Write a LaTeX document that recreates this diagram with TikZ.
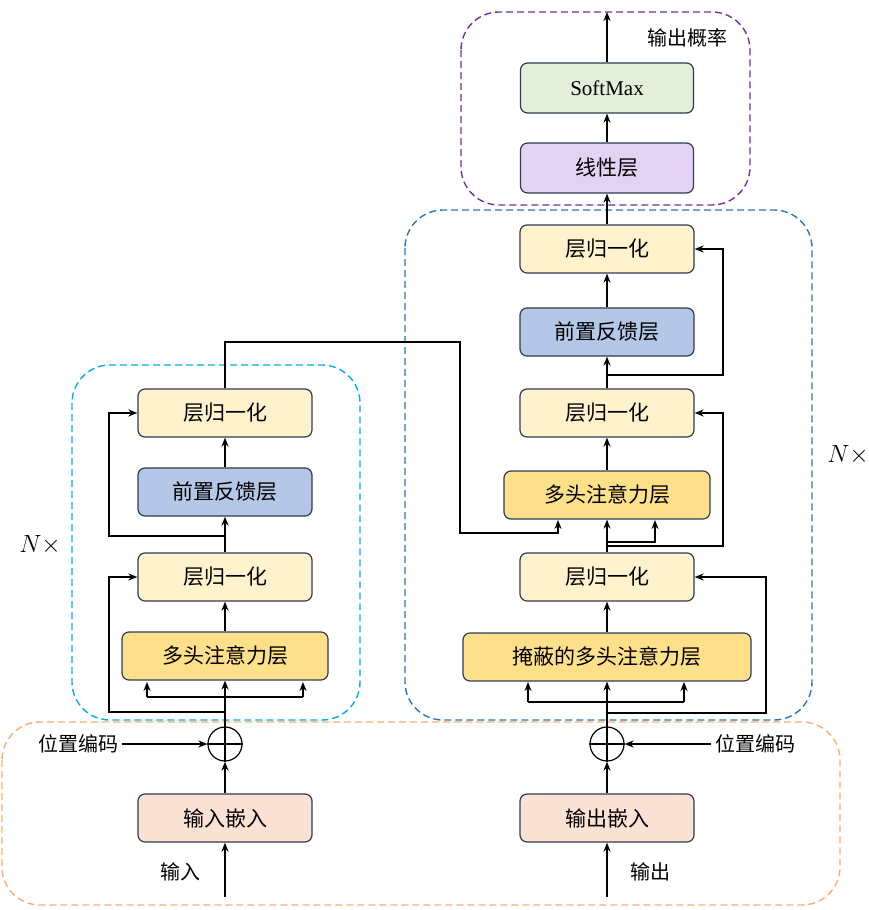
\documentclass[tikz,border=0pt]{standalone}
\usepackage{fontspec}
\setmainfont{Liberation Serif}
\newfontfamily\cjk{Noto Sans CJK SC}
\usetikzlibrary{arrows.meta}
\definecolor{lnc}{HTML}{FFF2CC}
\definecolor{ffc}{HTML}{B4C7E7}
\definecolor{mhc}{HTML}{FFE08A}
\definecolor{linc}{HTML}{E4D2F5}
\definecolor{smc}{HTML}{E2EFDA}
\definecolor{emc}{HTML}{FBE2D5}
\definecolor{bdc}{HTML}{2F3B57}
\begin{document}
\begin{tikzpicture}[x=1pt,y=-1pt,
 box/.style={draw=bdc,line width=1.2pt,rounded corners=7pt,minimum height=48pt,font=\cjk\fontsize{21}{24}\selectfont,inner sep=0pt},
 ln/.style={box,fill=lnc,minimum width=174pt},
 ar/.style={line width=1.6pt,-{Stealth[length=9pt,width=7pt]}},
 ln2/.style={line width=1.6pt},
 dsh/.style={dashed,line width=1.4pt,rounded corners=38pt,dash pattern=on 7pt off 4pt},
 lbl/.style={font=\cjk\fontsize{20}{24}\selectfont}]
\useasboundingbox (0,0) rectangle (868,910);
% dashed frames
\draw[dsh,color=orange!50!white!90!red] (2,722) rectangle (840,905);
\draw[dsh,color=cyan] (72,365) rectangle (360,720);
\draw[dsh,color={rgb,255:red,46;green,117;blue,182}] (405,210) rectangle (812,720);
\draw[dsh,color={rgb,255:red,112;green,48;blue,160}] (461,12) rectangle (750,205);
% encoder
\node[ln] (eln2) at (225,413) {层归一化};
\node[box,fill=ffc,minimum width=174pt] (eff) at (225,492) {前置反馈层};
\node[ln] (eln1) at (225,577) {层归一化};
\node[box,fill=mhc,minimum width=206pt] (emh) at (225,656) {多头注意力层};
\node[circle,draw,line width=1.2pt,minimum size=34pt,inner sep=0pt] (epl) at (225,744) {};
\draw[line width=1.2pt] (epl.north)--(epl.south) (epl.west)--(epl.east);
\node[box,fill=emc,minimum width=174pt] (eem) at (225,818) {输入嵌入};
\node[lbl] (ein) at (180,872) {输入};
\node[lbl] (epe) at (78,744) {位置编码};
\coordinate (einb) at (225,897);
\draw[ar] (einb)--(eem);
\draw[ar] (eem)--(epl);
\draw[ar] (epe.east)--(epl.west);
\draw[ar] (epl.north)--(emh.south);
\draw[ln2] (147,697)--(303,697);
\draw[ar] (147,697)--(147,682);
\draw[ar] (303,697)--(303,682);
\draw[ar] (225,712)--(109,712)--(109,577)--(eln1.west);
\draw[ar] (emh)--(eln1);
\draw[ar] (eln1)--(eff);
\draw[ar] (225,536)--(109,536)--(109,413)--(eln2.west);
\draw[ar] (eff)--(eln2);
% decoder
\node[ln] (dln3) at (607,249) {层归一化};
\node[box,fill=ffc,minimum width=174pt] (dff) at (607,332) {前置反馈层};
\node[ln] (dln2) at (607,413) {层归一化};
\node[box,fill=mhc,minimum width=206pt] (dmh) at (607,495) {多头注意力层};
\node[ln] (dln1) at (607,577) {层归一化};
\node[box,fill=mhc,minimum width=288pt] (dmm) at (607,657) {掩蔽的多头注意力层};
\node[circle,draw,line width=1.2pt,minimum size=34pt,inner sep=0pt] (dpl) at (607,744) {};
\draw[line width=1.2pt] (dpl.north)--(dpl.south) (dpl.west)--(dpl.east);
\node[box,fill=emc,minimum width=174pt] (dem) at (607,818) {输出嵌入};
\node[lbl] (dout) at (650,872) {输出};
\node[lbl] (dpe) at (755,744) {位置编码};
\coordinate (doutb) at (607,897);
\draw[ar] (doutb)--(dem);
\draw[ar] (dem)--(dpl);
\draw[ar] (dpe.west)--(dpl.east);
\draw[ar] (dpl.north)--(dmm.south);
\draw[ln2] (528,702)--(684,702);
\draw[ar] (528,702)--(528,682);
\draw[ar] (684,702)--(684,682);
\draw[ar] (607,713)--(766,713)--(766,577)--(dln1.east);
\draw[ar] (dmm)--(dln1);
\draw[ar] (dln1.north)--(dmh.south);
\draw[ar] (607,542)--(655,542)--(655,520);
\draw[ar] (607,546)--(723,546)--(723,413)--(dln2.east);
\draw[ar] (eln2.north)--(225,342)--(460,342)--(460,533)--(558,533)--(558,520);
\draw[ar] (dmh)--(dln2);
\draw[ar] (dln2)--(dff);
\draw[ar] (607,375)--(723,375)--(723,249)--(dln3.east);
\draw[ar] (dff)--(dln3);
% output head
\node[box,fill=linc,minimum width=173pt,minimum height=50pt] (lin) at (607,168) {线性层};
\node[box,fill=smc,minimum width=173pt,minimum height=50pt,font=\fontsize{21}{24}\selectfont] (sm) at (607,88) {SoftMax};
\coordinate (top) at (607,12);
\draw[ar] (dln3)--(lin);
\draw[ar] (lin)--(sm);
\draw[ar] (sm)--(top);
\node[lbl] (prob) at (687,38) {输出概率};
\node[font=\fontsize{26}{30}\selectfont] (n1) at (40,545) {$N\times$};
\node[font=\fontsize{26}{30}\selectfont] (n2) at (848,455) {$N\times$};
\end{tikzpicture}
\end{document}
